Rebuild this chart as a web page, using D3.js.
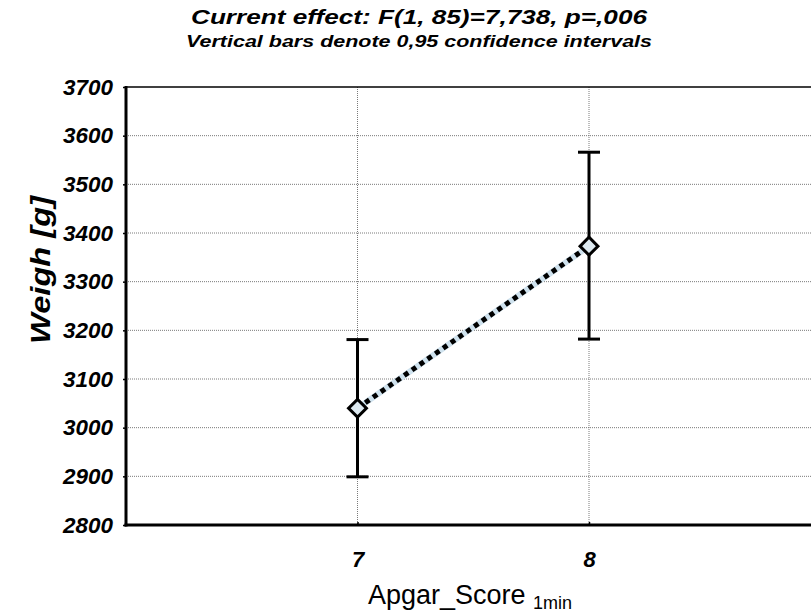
<!DOCTYPE html>
<html>
<head>
<meta charset="utf-8">
<script src="https://cdn.jsdelivr.net/npm/d3@7"></script>
<style>
  html, body { margin: 0; padding: 0; background: #ffffff; }
  svg { display: block; }
</style>
</head>
<body>
<svg id="chart" width="811" height="612"></svg>
<script>
// Mean birth weight by 1-minute Apgar score with 95% confidence intervals
const categories = [7, 8];
const means = [3040, 3373];
const ciLower = [2899, 3182];
const ciUpper = [3181, 3566];
const yTicks = [2800, 2900, 3000, 3100, 3200, 3300, 3400, 3500, 3600, 3700];
const titleLines = ["Current effect: F(1, 85)=7,738, p=,006", "Vertical bars denote 0,95 confidence intervals"];

const svg = d3.select("#chart");
const W = 811, H = 612;
const margin = { left: 126, top: 87, bottom: 525 };
const xSpan = [6, 9];

const x = d3.scaleLinear().domain(xSpan).range([margin.left, margin.left + 3 * 231.5]);
const y = d3.scaleLinear().domain([2800, 3700]).range([margin.bottom, margin.top]);

const font = "'Liberation Sans', Arial, sans-serif";

// grid lines
const grid = svg.append("g");
grid.selectAll("line.h").data(yTicks.slice(1, -1)).join("line")
  .attr("x1", margin.left).attr("x2", W)
  .attr("y1", d => y(d)).attr("y2", d => y(d))
  .attr("stroke", "#7a7a7a").attr("stroke-width", 1).attr("stroke-dasharray", "1,1");
grid.selectAll("line.v").data(categories).join("line")
  .attr("x1", d => x(d)).attr("x2", d => x(d))
  .attr("y1", margin.top).attr("y2", margin.bottom)
  .attr("stroke", "#7a7a7a").attr("stroke-width", 1).attr("stroke-dasharray", "1,1");

// top frame line
svg.append("line").attr("x1", margin.left).attr("x2", W)
  .attr("y1", margin.top).attr("y2", margin.top)
  .attr("stroke", "#000").attr("stroke-width", 1.5);

// y axis
const yAxis = svg.append("g").attr("transform", `translate(${margin.left},0)`)
  .call(d3.axisLeft(y).tickValues(yTicks).tickSize(3).tickPadding(10).tickFormat(d3.format("d")));
yAxis.select(".domain").remove();
yAxis.selectAll(".tick line").attr("stroke", "#000").attr("stroke-width", 1.5);
yAxis.selectAll(".tick text")
  .attr("font-family", font).attr("font-size", 22).attr("font-weight", "bold")
  .attr("font-style", "italic").attr("fill", "#000")
  .attr("textLength", 50).attr("lengthAdjust", "spacingAndGlyphs");
svg.append("line").attr("x1", margin.left).attr("x2", margin.left)
  .attr("y1", margin.top - 1).attr("y2", margin.bottom + 1.5)
  .attr("stroke", "#000").attr("stroke-width", 3);

// x axis
const xAxis = svg.append("g").attr("transform", `translate(0,${margin.bottom})`)
  .call(d3.axisBottom(x).tickValues(categories).tickSize(-3).tickPadding(26).tickFormat(d3.format("d")));
xAxis.select(".domain").remove();
xAxis.selectAll(".tick line").attr("stroke", "#000").attr("stroke-width", 1.5);
xAxis.selectAll(".tick text")
  .attr("font-family", font).attr("font-size", 22).attr("font-weight", "bold")
  .attr("font-style", "italic").attr("fill", "#000");
svg.append("line").attr("x1", margin.left - 1.5).attr("x2", W)
  .attr("y1", margin.bottom).attr("y2", margin.bottom)
  .attr("stroke", "#000").attr("stroke-width", 3);

// connecting line: light band under black dots
const pts = categories.map((c, i) => [x(c), y(means[i])]);
const line = d3.line();
svg.append("path").attr("d", line(pts)).attr("fill", "none")
  .attr("stroke", "#cfe2ee").attr("stroke-width", 6);
svg.append("path").attr("d", line(pts)).attr("fill", "none")
  .attr("stroke", "#000").attr("stroke-width", 5).attr("stroke-dasharray", "5,4.5");

// error bars
const capW = 22;
const eb = svg.append("g").attr("stroke", "#000").attr("stroke-width", 3);
categories.forEach((c, i) => {
  eb.append("line").attr("x1", x(c)).attr("x2", x(c)).attr("y1", y(ciLower[i])).attr("y2", y(ciUpper[i]));
  eb.append("line").attr("x1", x(c) - capW / 2).attr("x2", x(c) + capW / 2).attr("y1", y(ciLower[i])).attr("y2", y(ciLower[i]));
  eb.append("line").attr("x1", x(c) - capW / 2).attr("x2", x(c) + capW / 2).attr("y1", y(ciUpper[i])).attr("y2", y(ciUpper[i]));
});

// diamond markers
svg.selectAll("path.marker").data(categories).join("path")
  .attr("class", "marker")
  .attr("transform", (d, i) => `translate(${x(d)},${y(means[i])}) rotate(45)`)
  .attr("d", d3.symbol().type(d3.symbolSquare).size(160))
  .attr("fill", "#dde9f0").attr("stroke", "#000").attr("stroke-width", 3);

// titles
svg.append("text").attr("x", 419).attr("y", 24).attr("text-anchor", "middle")
  .attr("font-family", font).attr("font-size", 21).attr("font-weight", "bold").attr("font-style", "italic")
  .attr("textLength", 456).attr("lengthAdjust", "spacingAndGlyphs")
  .text(titleLines[0]);
svg.append("text").attr("x", 419).attr("y", 47).attr("text-anchor", "middle")
  .attr("font-family", font).attr("font-size", 17).attr("font-weight", "bold").attr("font-style", "italic")
  .attr("textLength", 466).attr("lengthAdjust", "spacingAndGlyphs")
  .text(titleLines[1]);

// axis titles
svg.append("text").attr("transform", "translate(50,270) rotate(-90)").attr("text-anchor", "middle")
  .attr("font-family", font).attr("font-size", 27).attr("font-weight", "bold").attr("font-style", "italic")
  .attr("textLength", 148).attr("lengthAdjust", "spacingAndGlyphs")
  .text("Weigh [g]");
const xt = svg.append("text").attr("x", 470).attr("y", 604).attr("text-anchor", "middle")
  .attr("font-family", font).attr("font-size", 27);
xt.append("tspan").text("Apgar_Score ");
xt.append("tspan").attr("font-size", 18).attr("dy", 5).text("1min");
</script>
</body>
</html>
